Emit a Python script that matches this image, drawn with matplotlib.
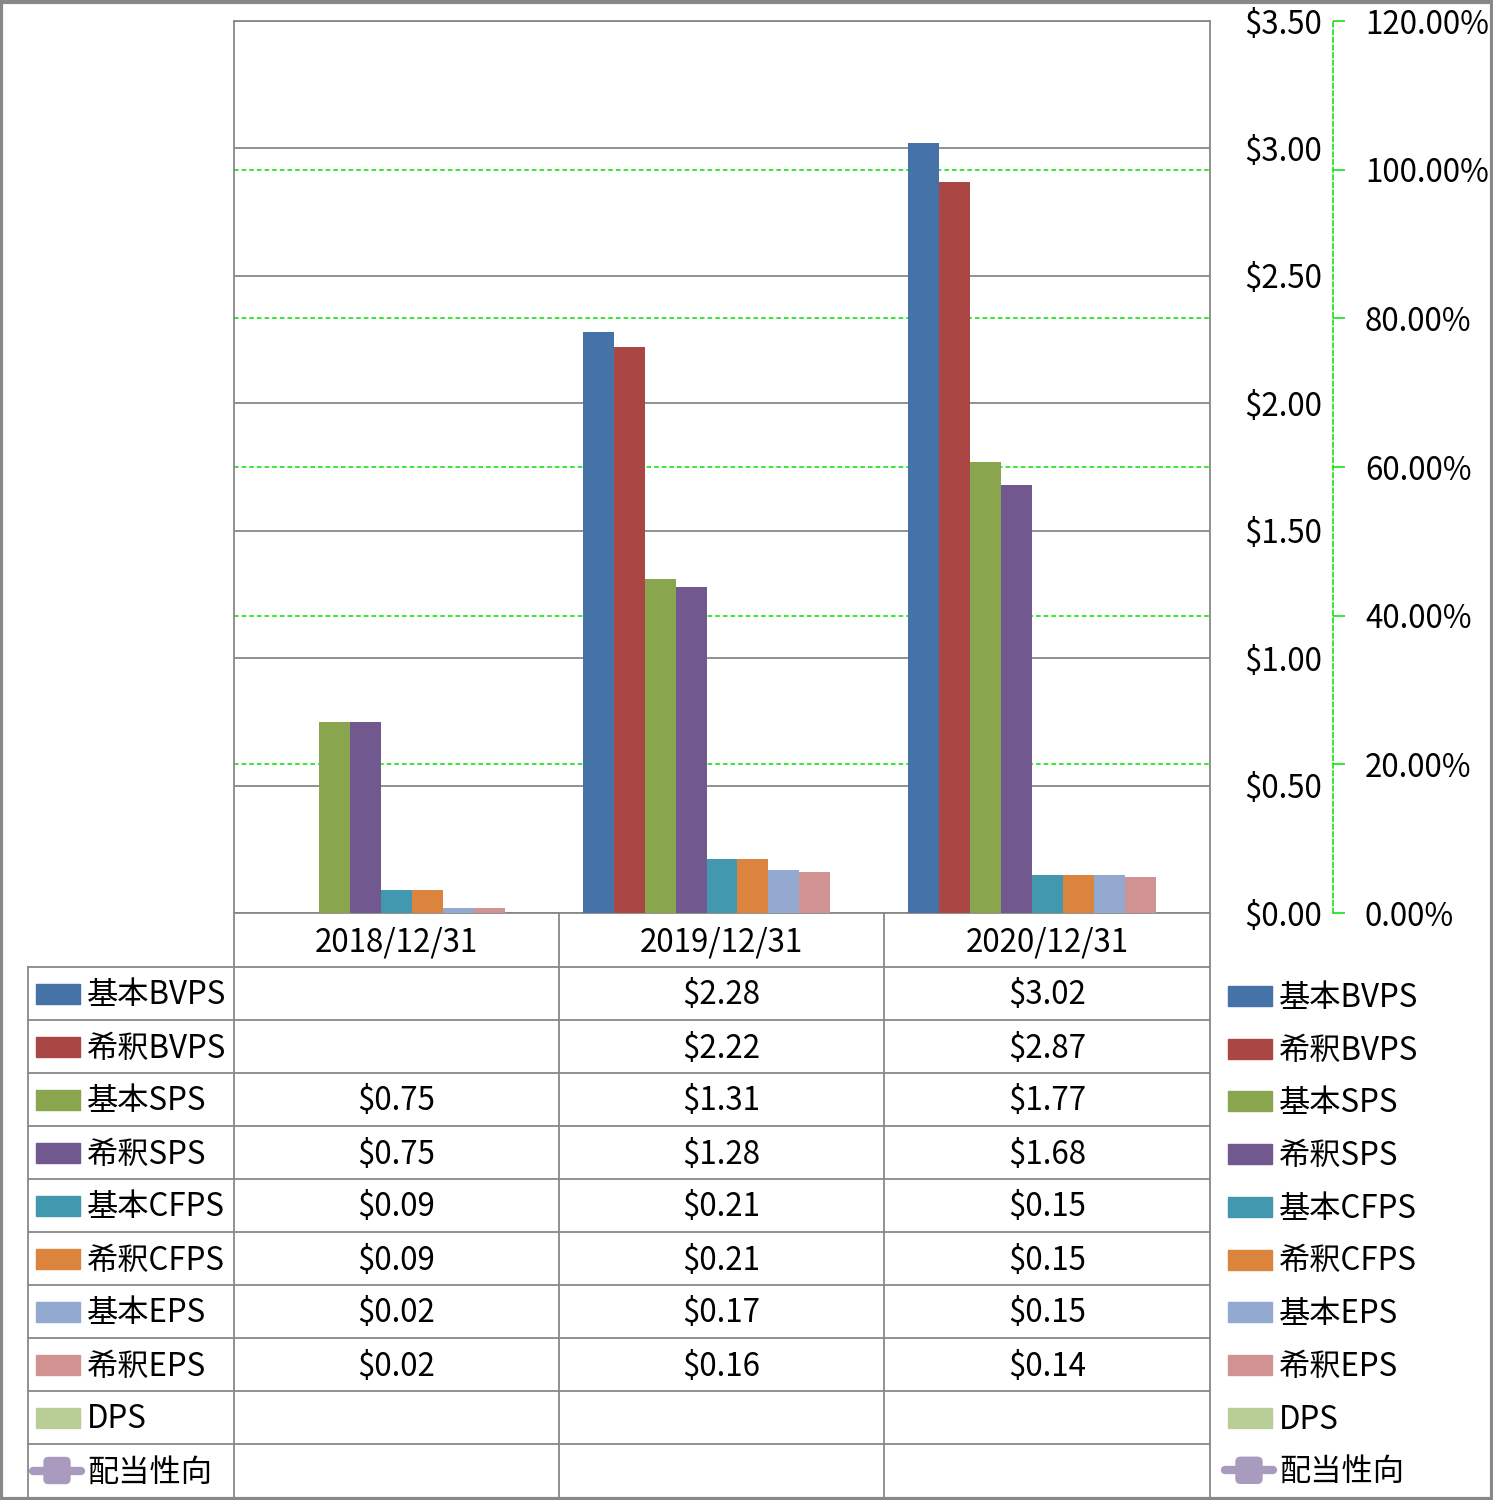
import numpy as np
import matplotlib
matplotlib.use("Agg")
import matplotlib.pyplot as plt
from matplotlib.patches import Rectangle, FancyBboxPatch
from matplotlib.lines import Line2D

plt.rcParams['font.family'] = ['Noto Sans CJK JP', 'DejaVu Sans']

# ---- data ----
categories = ["2018/12/31", "2019/12/31", "2020/12/31"]
series_names = ["基本BVPS", "希釈BVPS", "基本SPS", "希釈SPS", "基本CFPS",
                "希釈CFPS", "基本EPS", "希釈EPS", "DPS"]
basic_bvps = [np.nan, 2.28, 3.02]
dil_bvps = [np.nan, 2.22, 2.87]
basic_sps = [0.75, 1.31, 1.77]
dil_sps = [0.75, 1.28, 1.68]
basic_cfps = [0.09, 0.21, 0.15]
dil_cfps = [0.09, 0.21, 0.15]
basic_eps = [0.02, 0.17, 0.15]
dil_eps = [0.02, 0.16, 0.14]
dps = [np.nan, np.nan, np.nan]
payout_name = "配当性向"
payout_ratio = [np.nan, np.nan, np.nan]
usd_ticks = [0, 0.5, 1.0, 1.5, 2.0, 2.5, 3.0, 3.5]
pct_ticks = [0, 20, 40, 60, 80, 100, 120]

series_vals = [basic_bvps, dil_bvps, basic_sps, dil_sps, basic_cfps,
               dil_cfps, basic_eps, dil_eps, dps]
colors = ["#4572A7", "#AA4643", "#89A54E", "#71588F", "#4198AF",
          "#DB843D", "#93A9CF", "#D19392", "#B9CD96"]
payout_color = "#A99BBD"
grid_grey = "#888888"
green = "#00E000"

W, H = 1493, 1500
fig = plt.figure(figsize=(W / 100, H / 100), dpi=100)

def fx(px):
    return px / W

def fy(py):
    return 1 - py / H

FS = 22.5
DY = 2  # small downward text shift in px

L, R, T, B = 234, 1210, 21, 913
ax = fig.add_axes([fx(L), fy(B), fx(R) - fx(L), fy(T) - fy(B)])
ax2 = ax.twinx()
ax.set_zorder(ax2.get_zorder() + 1)
ax.patch.set_visible(False)

n = len(series_vals)
w = 1 / (n + 1.5)
x = np.arange(len(categories))
for j, (vals, c) in enumerate(zip(series_vals, colors)):
    ax.bar(x + (j - (n - 1) / 2) * w, vals, width=w, color=c, zorder=3,
           label=series_names[j])

ax.set_xlim(-0.5, len(categories) - 0.5)
ax.set_ylim(0, 3.5)
ax.set_xticks([])
ax.set_yticks(usd_ticks)
ax.yaxis.tick_right()
ax.set_yticklabels([f"${v:.2f}" for v in usd_ticks], fontsize=FS)
for lab in ax.get_yticklabels():
    lab.set_ha('right')
ax.tick_params(axis='y', length=0, pad=(1322 - R) * 0.72)
ax.yaxis.grid(True, color=grid_grey, lw=1.3, zorder=1)
ax.set_axisbelow(True)
for s in ax.spines.values():
    s.set_color(grid_grey)
    s.set_linewidth(1.3)

ax2.plot(x, payout_ratio, marker='s', color=payout_color, lw=5, ms=16)
for k in ['left', 'top', 'bottom']:
    ax2.spines[k].set_visible(False)
ax2.spines['right'].set_position(('axes', (1333 - L) / (R - L)))
ax2.spines['right'].set_color(green)
ax2.spines['right'].set_linestyle((0, (3, 2)))
ax2.spines['right'].set_linewidth(1.1)
ax2.set_ylim(0, 120)
ax2.set_yticks(pct_ticks)
ax2.set_yticklabels([f"{v:.2f}%" for v in pct_ticks])
ax2.yaxis.grid(True, color=green, lw=1.1, ls=(0, (3, 2)))
ax2.tick_params(axis='y', direction='out', length=12 * 0.72, width=1.1,
                color=green, pad=20 * 0.72, labelsize=FS)

# ---- data table ----
cols = [L, 559, 884, R]
row_top = 967
row_h = 53.0
nrows = n + 1
row_edges = [row_top + i * row_h for i in range(nrows + 1)]
row_edges[-1] = 1497

def hline(y, x0, x1):
    fig.add_artist(Line2D([fx(x0), fx(x1)], [fy(y), fy(y)], color=grid_grey,
                          lw=1.3, transform=fig.transFigure))

def vline(xp, y0, y1):
    fig.add_artist(Line2D([fx(xp), fx(xp)], [fy(y0), fy(y1)], color=grid_grey,
                          lw=1.3, transform=fig.transFigure))

for xp in cols:
    vline(xp, B, row_edges[-1])
vline(28, row_top, row_edges[-1])
for y in row_edges[:-1]:
    hline(y, 28, R)

for i, cat in enumerate(categories):
    fig.text(fx((cols[i] + cols[i + 1]) / 2), fy((B + row_top) / 2 + DY), cat,
             ha='center', va='center', fontsize=FS)

all_names = series_names + [payout_name]
all_vals = series_vals + [payout_ratio]
all_colors = colors + [payout_color]

def legend_key(xl, yc, idx):
    if idx < n:
        fig.add_artist(Rectangle((fx(xl), fy(yc + 10)), fx(44), 20 / H,
                                 color=all_colors[idx], transform=fig.transFigure))
    else:
        fig.add_artist(Line2D([fx(xl - 3), fx(xl + 45)], [fy(yc), fy(yc)],
                              color=payout_color, lw=6,
                              solid_capstyle='round',
                              transform=fig.transFigure))
        s = 26
        fig.add_artist(FancyBboxPatch((fx(xl + 21 - s / 2), fy(yc + s / 2)),
                                      s / W, s / H,
                                      boxstyle="round,pad=0,rounding_size=0.003",
                                      facecolor=payout_color, edgecolor=payout_color,
                                      transform=fig.transFigure))

for r in range(nrows):
    yc = (row_edges[r] + row_edges[r + 1]) / 2
    legend_key(36, yc, r)
    fig.text(fx(87), fy(yc + DY), all_names[r], ha='left', va='center', fontsize=FS)
    for i in range(len(categories)):
        v = all_vals[r][i]
        if not np.isnan(v):
            fig.text(fx((cols[i] + cols[i + 1]) / 2), fy(yc + DY), f"${v:.2f}",
                     ha='center', va='center', fontsize=FS)

# ---- right legend ----
for r in range(nrows):
    yc = 996 + r * 52.7
    legend_key(1228, yc, r)
    fig.text(fx(1279), fy(yc + DY), all_names[r], ha='left', va='center', fontsize=FS)

# outer border
fig.add_artist(Rectangle((0.001, 0.001), 0.998, 0.998, fill=False,
                         edgecolor=grid_grey, lw=3, transform=fig.transFigure))

fig.savefig("out.png", dpi=100)
